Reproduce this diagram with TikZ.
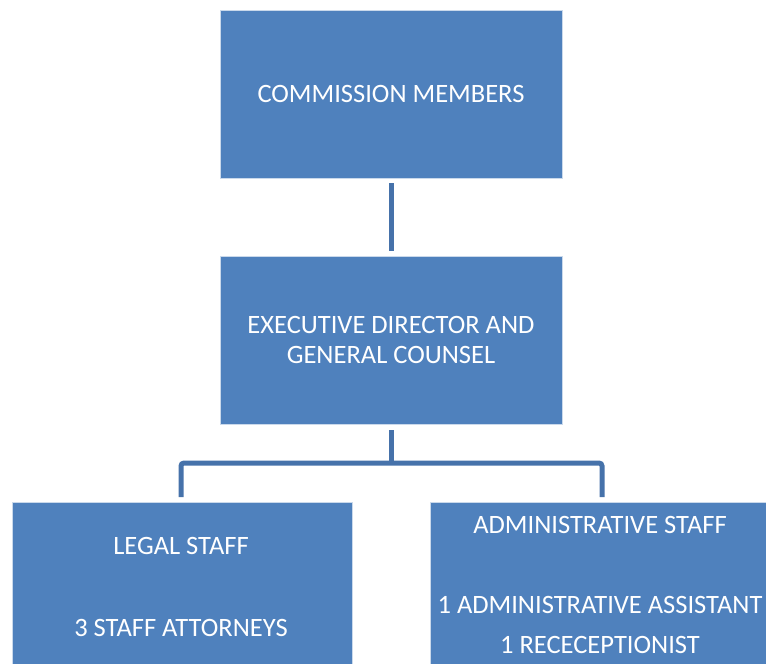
\documentclass[tikz,border=0pt]{standalone}
\usepackage{fontspec}
\setmainfont{Carlito}
\begin{document}
\definecolor{boxblue}{HTML}{4F81BD}
\definecolor{linkblue}{HTML}{4672AA}
\begin{tikzpicture}[x=1pt,y=-1pt,
  orgbox/.style={draw=white!70!boxblue,line width=0.8pt,fill=boxblue,inner sep=0pt},
  label/.style={text=white,font=\fontsize{26.5}{31}\selectfont,anchor=base,inner sep=0pt},
  link/.style={draw=linkblue,line width=5pt,rounded corners=3pt}]
\useasboundingbox (0,0) rectangle (766,664);
% boxes
\path[orgbox] (220,10) rectangle (562,178);
\coordinate (top) at (391,178);
\path[orgbox] (220,256) rectangle (562,424);
\coordinate (mid) at (391,256);
\coordinate (midb) at (391,424);
\path[orgbox] (12,502) rectangle (352,680);
\coordinate (left) at (181,502);
\path[orgbox] (430,502) rectangle (780,680);
\coordinate (right) at (602,502);
\coordinate (bar) at (391,463);
% box texts
\node[label] (t1) at (391,102) {COMMISSION MEMBERS};
\node[label] (t2a) at (391,333) {EXECUTIVE DIRECTOR AND};
\node[label] (t2b) at (391,363) {GENERAL COUNSEL};
\node[label] (t3a) at (181,554) {LEGAL STAFF};
\node[label] (t3b) at (181,636) {3 STAFF ATTORNEYS};
\node[label] (t4a) at (600,533) {ADMINISTRATIVE STAFF};
\node[label] (t4b) at (600,613) {1 ADMINISTRATIVE ASSISTANT};
\node[label] (t4c) at (600,653) {1 RECECEPTIONIST};
% connectors
\draw[link] ([yshift=-5]top) -- ([yshift=5]mid);
\draw[link] ([yshift=-6]midb) -- (bar);
\draw[link] ([yshift=5]left) |- (bar) -| ([yshift=5]right);
\end{tikzpicture}
\end{document}
